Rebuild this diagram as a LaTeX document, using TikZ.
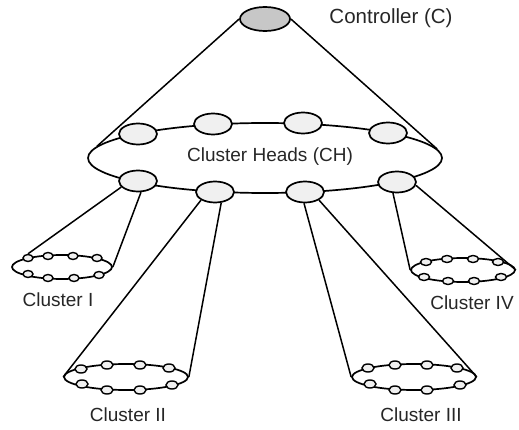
\documentclass[tikz,border=0pt]{standalone}
\usepackage{fontspec}
\setmainfont{Liberation Sans}
\usepackage{tikz}
\usetikzlibrary{shapes.geometric}
\usetikzlibrary{positioning}

\tikzset{
    ring/.style     = {draw, ellipse, inner sep=0pt, line width=1.7pt},
    headnode/.style = {draw, ellipse, fill=black!6, minimum width=38pt, minimum height=21pt, inner sep=0pt, line width=1.7pt},
    sensor/.style   = {draw, ellipse, fill=black!6, minimum width=12pt, minimum height=8pt, inner sep=0pt, line width=1.4pt},
    link/.style     = {line width=1.5pt},
    tag/.style      = {font=\fontsize{19}{22}\selectfont, text=black!85}
}

\begin{document}
\begin{tikzpicture}[x=1pt, y=-1pt]
            % Frame to fix the size:
            \useasboundingbox                                                  (0,0) rectangle (519,430);
            % Controller
            \node[headnode, fill=black!22, minimum width=50pt, minimum height=24pt] (C)  at (265, 19) {};
            \node[tag, font=\fontsize{20.5}{24}\selectfont]                   (Clab) at (391, 18) {Controller (C)};
            % Cluster heads ring
            \node[ring, minimum width=354pt, minimum height=70pt]             (CH)   at (265,158) {};
            \node[tag]                                                         (CHlab) at (270,157) {Cluster Heads (CH)};
            \foreach \x/\y [count=\i] in {138/134, 213/124, 303/123, 388/133}
                \node[headnode] (h\i) at (\x,\y) {};
            \foreach \x/\y [count=\i] in {138/181, 215/192, 305/192, 397/182}
                \node[headnode] (b\i) at (\x,\y) {};
            % Cluster rings
            \node[ring, minimum width=100pt, minimum height=24pt]             (R1)   at ( 62,267) {};
            \node[ring, minimum width=124pt, minimum height=26pt]             (R2)   at (126,377) {};
            \node[ring, minimum width=124pt, minimum height=26pt]             (R3)   at (414,377) {};
            \node[ring, minimum width=104pt, minimum height=24pt]             (R4)   at (463,270) {};
            % Sensor nodes
            \foreach \x/\y [count=\i] in {28/258, 48/256, 73/256, 97/258, 28/274, 48/278, 74/278, 99/275}
                \node[sensor, minimum width=10pt, minimum height=7pt] (s1\i) at (\x,\y) {};
            \foreach \x/\y [count=\i] in {81/369, 107/365, 140/365, 169/368, 82/384, 107/390, 140/390, 172/385}
                \node[sensor] (s2\i) at (\x,\y) {};
            \foreach \x/\y [count=\i] in {368/368, 395/365, 427/365, 457/368, 370/384, 395/390, 427/390, 460/385}
                \node[sensor] (s3\i) at (\x,\y) {};
            \foreach \x/\y [count=\i] in {426/262, 447/259, 473/259, 498/262, 424/277, 448/281, 474/281, 501/277}
                \node[sensor, minimum width=11pt, minimum height=7pt] (s4\i) at (\x,\y) {};
            % Cluster names
            \node[tag] (L1) at ( 58,300) {Cluster I};
            \node[tag] (L2) at (128,415) {Cluster II};
            \node[tag] (L3) at (421,415) {Cluster III};
            \node[tag] (L4) at (472,303) {Cluster IV};
            % Links
            \draw[link] (C.west)  -- (CH.176.5);
            \draw[link] (C.east)  -- (CH.3.5);
            \draw[link] (b1.200)  -- (s11.north);
            \draw[link] (b1.285)  -- (R1.east);
            \draw[link] (b2.210)  -- (R2.west);
            \draw[link] (b2.300)  -- (R2.east);
            \draw[link] (b3.265)  -- (R3.west);
            \draw[link] (b3.330)  -- (R3.east);
            \draw[link] (b4.250)  -- (R4.west);
            \draw[link] (b4.350)  -- (R4.east);
        \end{tikzpicture}
\end{document}
